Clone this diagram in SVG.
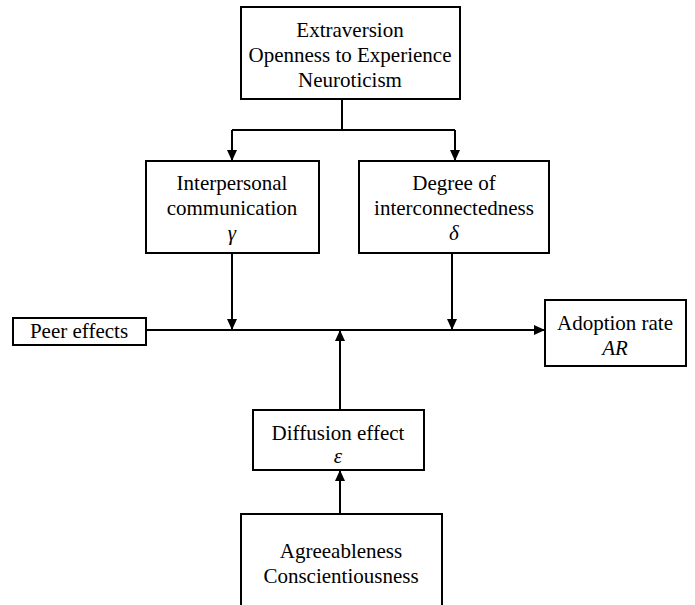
<svg xmlns="http://www.w3.org/2000/svg" width="695" height="605" viewBox="0 0 695 605">
<style>
.box{fill:#fff;stroke:#000;stroke-width:2}
.t{font-family:"Liberation Serif","Times New Roman",serif;font-size:21px;fill:#000;text-anchor:middle}
.i{font-style:italic}
.c{fill:none;stroke:#000;stroke-width:2}
</style>
<defs>
<marker id="ah" markerWidth="11" markerHeight="11" viewBox="0 0 11 10" refX="11" refY="5" orient="auto" markerUnits="userSpaceOnUse">
<path d="M0,0 L11,5 L0,10 Z" fill="#000"/>
</marker>
</defs>
<g id="connectors">
<path class="c" d="M342,99 V130"/>
<path class="c" d="M232,130 H455"/>
<path class="c" d="M232,130 V161" marker-end="url(#ah)"/>
<path class="c" d="M455,130 V161" marker-end="url(#ah)"/>
<path class="c" d="M232,253 V330" marker-end="url(#ah)"/>
<path class="c" d="M452,253 V330" marker-end="url(#ah)"/>
<path class="c" d="M146,330 H545" marker-end="url(#ah)"/>
<path class="c" d="M340,410 V330" marker-end="url(#ah)"/>
<path class="c" d="M340,514 V470" marker-end="url(#ah)"/>
</g>
<g id="traits_top">
<rect class="box" x="241" y="7" width="219" height="92"/>
<text class="t" x="350" y="37">Extraversion</text>
<text class="t" x="350" y="62">Openness to Experience</text>
<text class="t" x="350" y="87">Neuroticism</text>
</g>
<g id="interpersonal">
<rect class="box" x="146" y="161" width="173" height="92"/>
<text class="t" x="232" y="190">Interpersonal</text>
<text class="t" x="232" y="215">communication</text>
<text class="t i" x="232" y="240">γ</text>
</g>
<g id="interconnectedness">
<rect class="box" x="359" y="161" width="190" height="92"/>
<text class="t" x="454" y="190">Degree of</text>
<text class="t" x="454" y="215">interconnectedness</text>
<text class="t i" x="454" y="240">δ</text>
</g>
<g id="peer">
<rect class="box" x="13" y="318" width="133" height="27"/>
<text class="t" x="79" y="338">Peer effects</text>
</g>
<g id="adoption">
<rect class="box" x="545" y="300" width="141" height="66"/>
<text class="t" x="615" y="330">Adoption rate</text>
<text class="t i" x="615" y="355">AR</text>
</g>
<g id="diffusion">
<rect class="box" x="253" y="410" width="171" height="60"/>
<text class="t" x="338" y="440">Diffusion effect</text>
<text class="t i" x="338" y="463">ε</text>
</g>
<g id="traits_bottom">
<rect class="box" x="241" y="514" width="201" height="100"/>
<text class="t" x="341" y="558">Agreeableness</text>
<text class="t" x="341" y="583">Conscientiousness</text>
</g>
</svg>
